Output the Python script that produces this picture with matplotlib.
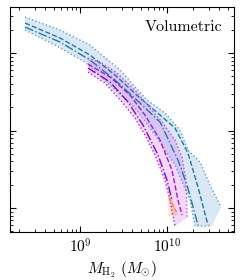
import numpy as np
import matplotlib
matplotlib.use("Agg")
import matplotlib.pyplot as plt

plt.rcParams['font.family'] = 'serif'
plt.rcParams['font.serif'] = ['cmr10', 'DejaVu Serif']
plt.rcParams['mathtext.fontset'] = 'cm'
plt.rcParams['axes.formatter.use_mathtext'] = True

# log10 M_H2 (Msun) e log10 phi
azul_sup_m = [8.368, 8.770, 9.115, 9.460, 9.770, 9.977, 10.149, 10.241, 10.379, 10.494, 10.621]
azul_sup_phi = [-1.535, -1.703, -1.897, -2.219, -2.606, -2.774, -2.994, -3.252, -3.407, -3.703, -3.987]
azul_inf_m = [8.368, 8.713, 9.057, 9.345, 9.632, 9.862, 10.092, 10.264, 10.322, 10.517]
azul_inf_phi = [-1.703, -1.897, -2.116, -2.413, -2.710, -3.058, -3.445, -3.897, -4.232, -4.232]
azul_trac_m = [8.368, 8.770, 9.115, 9.402, 9.690, 9.920, 10.092, 10.241, 10.356, 10.471]
azul_trac_phi = [-1.613, -1.806, -2.026, -2.284, -2.581, -2.800, -2.968, -3.290, -3.729, -4.219]
azul_tp_m = [8.368, 8.770, 9.115, 9.402, 9.690, 9.920, 10.126, 10.230, 10.356]
azul_tp_phi = [-1.665, -1.858, -2.090, -2.348, -2.645, -2.890, -3.381, -3.703, -4.219]

mag_sup_m = [9.092, 9.230, 9.425, 9.632, 9.805, 9.943, 10.092, 10.172, 10.218, 10.230]
mag_sup_phi = [-2.065, -2.116, -2.258, -2.477, -2.710, -2.890, -3.123, -3.342, -3.639, -4.129]
mag_inf_m = [9.092, 9.287, 9.494, 9.632, 9.747, 9.862, 9.977, 10.034, 10.092]
mag_inf_phi = [-2.245, -2.387, -2.645, -2.839, -3.058, -3.316, -3.639, -3.897, -4.232]
mag_trac_m = [9.092, 9.345, 9.575, 9.747, 9.920, 10.057, 10.126, 10.172]
mag_trac_phi = [-2.142, -2.310, -2.542, -2.800, -3.123, -3.510, -3.897, -4.090]
mag_tp_m = [9.092, 9.345, 9.552, 9.724, 9.897, 10.0, 10.057]
mag_tp_phi = [-2.194, -2.374, -2.632, -2.929, -3.316, -3.639, -3.897]

lar_m = [10.011, 10.046, 10.126, 10.023]
lar_phi = [-3.832, -3.832, -4.090, -4.103]
lar_trac_m = [10.023, 10.115]
lar_trac_phi = [-3.871, -4.065]


def p(a):
    return 10 ** np.array(a)


fig = plt.figure(figsize=(2.5, 2.8), dpi=100)
ax = fig.add_axes([0.04, 0.171, 0.896, 0.804])

# banda azul
ax.fill(np.concatenate([p(azul_sup_m), p(azul_inf_m)[::-1]]),
        np.concatenate([p(azul_sup_phi), p(azul_inf_phi)[::-1]]),
        color='#1f77b4', alpha=0.17, lw=0)
ax.plot(p(azul_sup_m), p(azul_sup_phi), ':', color='#5fa2d4', lw=1.0)
ax.plot(p(azul_inf_m), p(azul_inf_phi), ':', color='#5fa2d4', lw=1.0)
ax.plot(p(azul_trac_m), p(azul_trac_phi), '--', color='#1f77b4', lw=1.0)
ax.plot(p(azul_tp_m), p(azul_tp_phi), '-.', color='#1f77b4', lw=1.0)

# banda magenta
ax.fill(np.concatenate([p(mag_sup_m), p(mag_inf_m)[::-1]]),
        np.concatenate([p(mag_sup_phi), p(mag_inf_phi)[::-1]]),
        color='#c040e8', alpha=0.2, lw=0)
ax.plot(p(mag_sup_m), p(mag_sup_phi), ':', color='#e040f0', lw=1.0)
ax.plot(p(mag_inf_m), p(mag_inf_phi), ':', color='#b020e0', lw=1.0)
ax.plot(p(mag_trac_m), p(mag_trac_phi), '--', color='#b010e0', lw=1.0)
ax.plot(p(mag_tp_m), p(mag_tp_phi), '-.', color='#8a00d0', lw=1.0)

# banda laranja
ax.fill(p(lar_m), p(lar_phi), color='#ff7f0e', alpha=0.25, lw=0)
ax.plot(p(lar_trac_m), p(lar_trac_phi), '--', color='#ff7f0e', lw=0.8)

ax.set_xscale('log')
ax.set_yscale('log')
ax.set_xlim(10 ** 8.195, 10 ** 10.77)
ax.set_ylim(10 ** -4.31, 10 ** -1.406)
ax.tick_params(which='both', direction='in', top=True, right=True, labelsize=11)
ax.tick_params(which='major', length=4.5)
ax.tick_params(which='minor', length=2.5)
ax.set_yticklabels([], minor=False)
ax.set_yticklabels([], minor=True)
ax.set_xlabel(r'$M_{\rm H_2}\ (M_{\odot})$', fontsize=11, labelpad=3)
ax.text(0.95, 0.94, 'Volumetric', transform=ax.transAxes, ha='right', va='top', fontsize=11.5)

fig.savefig('out.png', dpi=100)
